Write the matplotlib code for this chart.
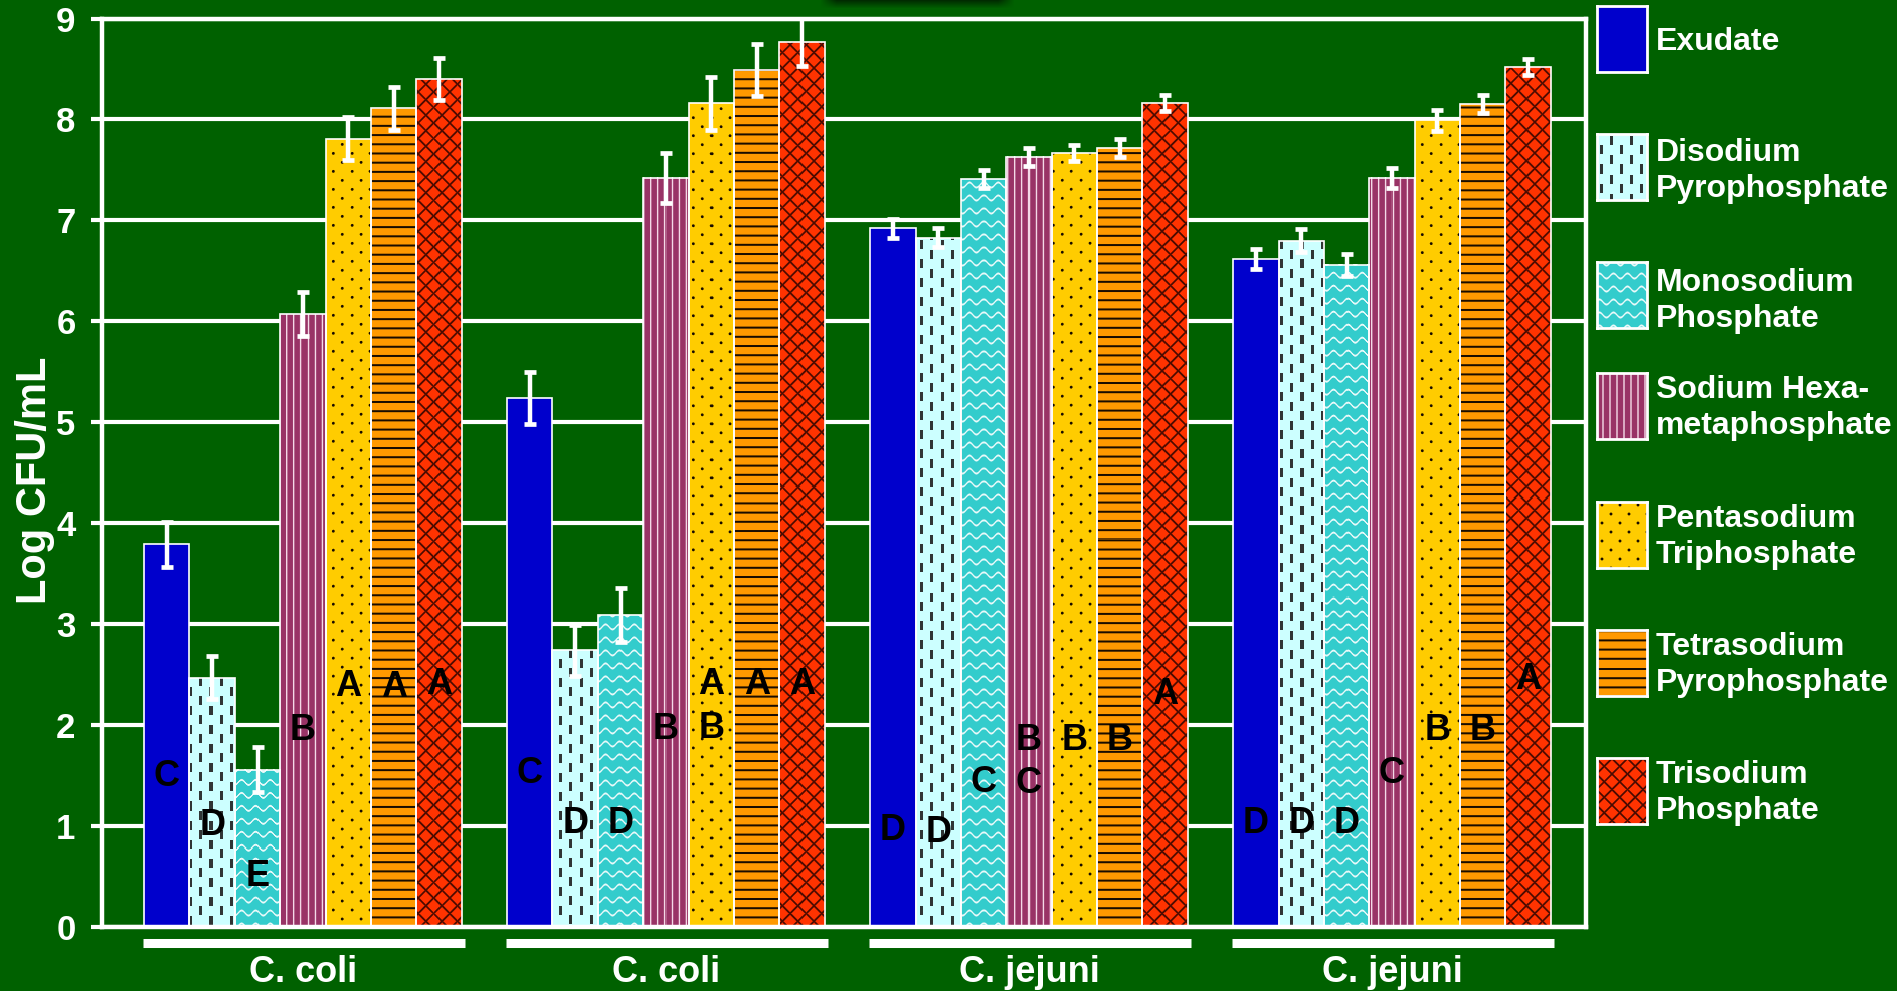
import numpy as np
import matplotlib
matplotlib.use("Agg")
import matplotlib.pyplot as plt

plt.rcParams['font.family'] = ['Liberation Sans', 'DejaVu Sans']
plt.rcParams['font.weight'] = 'bold'

# ---- data ----
groups = ["C. coli", "C. coli", "C. jejuni", "C. jejuni"]
treatments = ["Exudate", "Disodium\nPyrophosphate", "Monosodium\nPhosphate",
              "Sodium Hexa-\nmetaphosphate", "Pentasodium\nTriphosphate",
              "Tetrasodium\nPyrophosphate", "Trisodium\nPhosphate"]

exudate = [3.79, 5.24, 6.92, 6.62]
disodium = [2.47, 2.74, 6.83, 6.80]
monosodium = [1.56, 3.09, 7.41, 6.56]
hexameta = [6.07, 7.42, 7.63, 7.42]
pentasodium = [7.81, 8.16, 7.67, 7.99]
tetrasodium = [8.11, 8.49, 7.72, 8.15]
trisodium = [8.40, 8.77, 8.16, 8.52]

exudate_err = [0.22, 0.26, 0.09, 0.10]
disodium_err = [0.21, 0.25, 0.09, 0.11]
monosodium_err = [0.22, 0.27, 0.09, 0.11]
hexameta_err = [0.22, 0.25, 0.09, 0.10]
pentasodium_err = [0.21, 0.26, 0.08, 0.10]
tetrasodium_err = [0.21, 0.26, 0.09, 0.09]
trisodium_err = [0.21, 0.24, 0.08, 0.08]

# significance letters, one list per group
letters = [["C", "D", "E", "B", "A", "A", "A"],
           ["C", "D", "D", "B", "AB", "A", "A"],
           ["D", "D", "C", "BC", "B", "B", "A"],
           ["D", "D", "D", "C", "B", "B", "A"]]

means = [exudate, disodium, monosodium, hexameta, pentasodium, tetrasodium, trisodium]
errs = [exudate_err, disodium_err, monosodium_err, hexameta_err,
        pentasodium_err, tetrasodium_err, trisodium_err]

# ---- styling ----
colors = ['#0000CC', '#CCFFFF', '#33CCCC', '#993366', '#FFCC00', '#FF9900', '#FF3300']
fills = ['solid', 'dash', 'wave', 'vline', 'dots', 'hline', 'cross']
letter_y = [[1.49, 1.01, 0.50, 1.95, 2.38, 2.37, 2.40],
            [1.52, 1.03, 1.03, 1.96, 2.40, 2.40, 2.40],
            [0.96, 0.94, 1.43, 1.85, 1.85, 1.85, 2.30],
            [1.03, 1.03, 1.03, 1.52, 1.95, 1.95, 2.45]]

W, H, DPI = 1897, 991, 100
BG = '#006100'
BW = 0.125


def pattern(kind, X, Y):
    """Overlay marks for a fill style at pixel coords X, Y -> (rgb, alpha)."""
    if kind == 'dash':
        shift = (np.floor(X / 10.0) % 2) * 9.5
        a = (((X % 10.0) < 3) & (((Y + shift) % 19.0) < 9)).astype(float)
        return (0.12, 0.12, 0.12), a * 0.9
    if kind == 'wave':
        yy = (Y - 2.5 * np.sin(2 * np.pi * X / 14.0)) % 13.0
        d = np.minimum(yy, 13.0 - yy)
        return (1, 1, 1), np.clip(1.5 - d, 0, 1) * 0.9
    if kind == 'vline':
        xx = X % 7.0
        d = np.minimum(xx, 7.0 - xx)
        return (1.0, 0.93, 0.97), np.clip(1.2 - d, 0, 1) * 0.9
    if kind == 'dots':
        a = (X + Y) / 18.0
        b = (X - Y) / 18.0
        da = a - np.round(a)
        db = b - np.round(b)
        d = np.sqrt(162 * (da ** 2 + db ** 2))
        return (0.1, 0.05, 0), np.clip(1.9 - d, 0, 1)
    if kind == 'hline':
        yy = Y % 9.2
        d = np.minimum(yy, 9.2 - yy)
        return (0.1, 0.05, 0), np.clip(1.5 - d, 0, 1)
    if kind == 'cross':
        p = 15.5
        u = (X + Y) % p
        v = (X - Y) % p
        d = np.minimum(np.minimum(u, p - u), np.minimum(v, p - v)) / np.sqrt(2)
        return (0.22, 0.03, 0), np.clip(1.4 - d, 0, 1) * 0.9
    return (0, 0, 0), np.zeros_like(X)


def texture(kind, x0, y0, w, h, face=None):
    nx, ny = max(int(round(w)), 1), max(int(round(h)), 1)
    xs = x0 + (np.arange(nx) + 0.5) * w / nx
    ys = y0 + h - (np.arange(ny) + 0.5) * h / ny
    X, Y = np.meshgrid(xs, ys)
    rgb, a = pattern(kind, X, Y)
    img = np.zeros((ny, nx, 4))
    if face is None:
        img[..., :3] = rgb
        img[..., 3] = a
    else:
        fc = np.array(matplotlib.colors.to_rgb(face))
        img[..., :3] = fc * (1 - a[..., None]) + np.array(rgb) * a[..., None]
        img[..., 3] = 1
    return img


fig = plt.figure(figsize=(W / DPI, H / DPI), dpi=DPI, facecolor=BG)
ax = fig.add_axes([102 / W, 1 - 927 / H, (1586 - 102) / W, (927 - 18.5) / H])
ax.set_facecolor(BG)
XLIM, YLIM = (-0.116, 3.972), (0, 9)
ax.set_xlim(*XLIM)
ax.set_ylim(*YLIM)

gx = np.arange(len(groups))
for j, (vals, ev) in enumerate(zip(means, errs)):
    lefts = gx + j * BW
    ax.bar(lefts, vals, width=BW, align='edge', color=colors[j], linewidth=0, zorder=2)
    if fills[j] != 'solid':
        for x0, v in zip(lefts, vals):
            (px0, py0), (px1, py1) = ax.transData.transform([(x0, 0), (x0 + BW, v)])
            img = texture(fills[j], px0, py0, px1 - px0, py1 - py0)
            ax.imshow(img, extent=(x0, x0 + BW, 0, v), aspect='auto',
                      interpolation='nearest', zorder=2.5)
    ax.bar(lefts, vals, width=BW, align='edge', fill=False, edgecolor='white',
           linewidth=1.2, zorder=3)
    ax.errorbar(lefts + BW / 2, vals, yerr=ev, fmt='none', ecolor='white',
                elinewidth=3.2, capsize=4.3, capthick=3.4, zorder=4)

# significance letters inside the bars
for i in range(len(groups)):
    for j in range(len(treatments)):
        for k, ch in enumerate(letters[i][j]):
            ax.text(i + j * BW + BW / 2, letter_y[i][j] - 0.43 * k, ch,
                    ha='center', va='center', fontsize=26, color='black', zorder=5)

ax.set_xlim(*XLIM)
ax.set_ylim(*YLIM)

ax.set_yticks(range(10))
ax.set_xticks([])
ax.tick_params(axis='y', colors='white', length=8, width=3, labelsize=25, pad=11)
for s in ax.spines.values():
    s.set_color('white')
    s.set_linewidth(3.2)
ax.yaxis.grid(True, color='white', linewidth=3)
ax.set_axisbelow(True)

# group bars and names under the axis
xt = ax.get_xaxis_transform()
for i, g in enumerate(groups):
    ax.plot([i - 0.003, i + 7 * BW + 0.01], [-0.018, -0.018], transform=xt,
            color='white', lw=6.5, solid_capstyle='butt', clip_on=False)
    ax.text(i + 3.5 * BW, -0.0605, g, transform=xt, ha='center', va='baseline',
            color='white', fontsize=26)

fig.text(35 / W, 1 - 480 / H, 'Log CFU/mL', rotation=90, ha='center', va='center',
         color='white', fontsize=30)

# legend swatches and names down the right side
sw_tops = [6, 134, 262, 373, 502, 630, 758]
txt_mid = [42, 171, 301, 408, 537, 665, 793]
for j, name in enumerate(treatments):
    top = sw_tops[j]
    lax = fig.add_axes([1597 / W, 1 - (top + 66) / H, 50 / W, 66 / H])
    lax.imshow(texture(fills[j], 1597, H - top - 66, 50, 66, face=colors[j]),
               aspect='auto', interpolation='nearest')
    lax.set_xticks([])
    lax.set_yticks([])
    for s in lax.spines.values():
        s.set_color('white')
        s.set_linewidth(2)
    fig.text(1656 / W, 1 - txt_mid[j] / H, name, ha='left', va='center',
             color='white', fontsize=23, linespacing=1.25)

# soft dark band along the top edge
sax = fig.add_axes([820 / W, 1 - 9 / H, 195 / W, 9 / H])
yy = np.linspace(0, 1, 9)[:, None]
xx = np.linspace(0, 1, 195)[None, :]
alpha = 0.55 * (1 - yy) * np.clip(np.minimum(xx, 1 - xx) * 12, 0, 1)
shade = np.zeros((9, 195, 4))
shade[..., 3] = alpha
sax.imshow(shade, aspect='auto', interpolation='bilinear')
sax.axis('off')

fig.savefig('out.png', dpi=DPI, facecolor=BG)
plt.close(fig)
